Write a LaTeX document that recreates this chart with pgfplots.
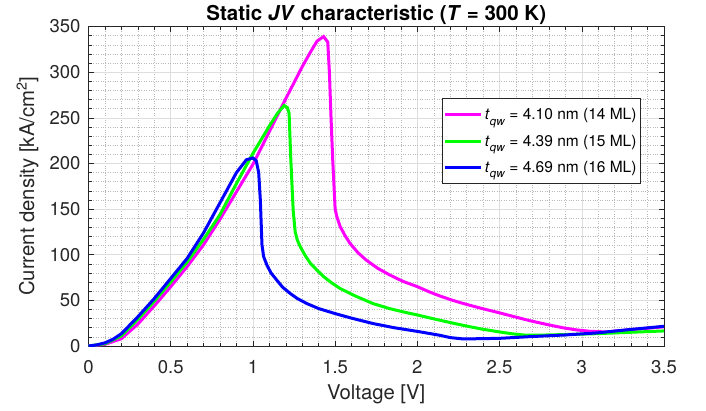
\documentclass[border=0pt]{standalone}
\usepackage{pgfplots}
\pgfplotsset{compat=1.18}
\usepackage{fontspec}
\setmainfont{TeX Gyre Heros}
\definecolor{axgray}{gray}{0.15}
\definecolor{mmag}{rgb}{1,0,1}
\definecolor{mgreen}{rgb}{0,1,0}
\definecolor{mblue}{rgb}{0,0,1}
\newcommand{\tqw}{\textit{t}\raisebox{-5.5pt}{\fontsize{11.5}{12}\selectfont\textit{qw}}}
\begin{document}
\begin{tikzpicture}
\begin{axis}[
  scale only axis, width=575.5pt, height=319.5pt,
  xmin=0, xmax=3.5, ymin=0, ymax=350,
  xtick={0,0.5,1,1.5,2,2.5,3,3.5},
  xticklabels={0,0.5,1,1.5,2,2.5,3,3.5},
  ytick={0,50,100,150,200,250,300,350},
  yticklabels={0,50,100,150,200,250,300,350},
  minor x tick num=4, minor y tick num=4,
  grid=both,
  major grid style={black!13, line width=0.5pt},
  minor grid style={black!28, dotted, line width=0.5pt},
  tick align=inside,
  major tick length=5.5pt, minor tick length=3.5pt,
  every tick/.style={axgray, line width=0.5pt},
  axis line style={axgray, line width=0.6pt},
  /pgf/number format/assume math mode=true,
  tick label style={font=\fontsize{18.5}{20}\selectfont, text=axgray},
  xticklabel style={anchor=north, inner sep=0pt, yshift=-14pt},
  yticklabel style={anchor=east, inner sep=0pt, xshift=-7.8pt},
  every axis title shift=0pt,
  title={Static \textit{JV} characteristic (\textit{T} = 300 K)},
  title style={font=\bfseries\fontsize{20.5}{22}\selectfont, at={(axis description cs:0.5,1)}, anchor=base, yshift=5.5pt, inner sep=0pt},
  xlabel={Voltage [V]},
  xlabel style={font=\fontsize{20.3}{22}\selectfont, text=axgray, at={(axis description cs:0.5,0)}, anchor=base, yshift=-53pt, inner sep=0pt},
  ylabel={Current density [kA/cm\textsuperscript{2}]},
  ylabel style={font=\fontsize{20.3}{22}\selectfont, text=axgray, at={(axis description cs:-0.106,0.5)}, anchor=center, inner sep=0pt},
  legend style={at={(axis description cs:0.6137,0.7753)}, anchor=north west, draw=axgray, line width=0.6pt, fill=white,
    font=\fontsize{15.5}{17}\selectfont, inner xsep=2pt, inner ysep=6pt, row sep=6pt,
    nodes={inner xsep=2pt, inner ysep=3.8pt}},
  legend cell align=left,
  legend image code/.code={\draw[#1] (0pt,0pt) -- (36pt,0pt);},
]
\addplot[mmag, line width=3pt] coordinates {
(0,0) (0.1,1.8) (0.2,8) (0.3,24) (0.4,44) (0.5,65) (0.6,87) (0.7,111) (0.8,139) (0.9,169)
(1.0,199) (1.1,235) (1.2,271) (1.3,306) (1.35,322) (1.39,334) (1.43,339) (1.455,333)
(1.465,300) (1.475,250) (1.485,205) (1.5,150) (1.51,142) (1.53,131) (1.56,121) (1.59,112.5)
(1.64,102) (1.69,94) (1.76,85) (1.83,78) (1.91,71) (2.0,65) (2.07,59.5) (2.14,54.6) (2.21,50.3)
(2.28,46.5) (2.39,41.2) (2.5,36.3) (2.6,31.6) (2.69,27.5) (2.79,23.5) (2.89,19.8) (2.97,17.6)
(3.05,16.1) (3.15,15.4) (3.3,18) (3.5,21)
};
\addlegendentry{\tqw{} = 4.10 nm (14 ML)}
\addplot[mgreen, line width=3pt] coordinates {
(0,0) (0.1,2.5) (0.2,11) (0.3,29) (0.4,49) (0.5,70) (0.6,92) (0.7,117) (0.8,144) (0.9,178)
(1.0,211) (1.1,241) (1.15,255) (1.19,263.5) (1.21,261) (1.22,255) (1.23,206) (1.245,148)
(1.257,125) (1.27,116) (1.29,108) (1.32,98.5) (1.35,90.5) (1.39,83) (1.43,76) (1.48,69)
(1.53,63) (1.62,55) (1.73,46.5) (1.83,41) (1.94,36.3) (2.0,34) (2.1,29.7) (2.2,25.7)
(2.3,21.8) (2.4,18.3) (2.5,15.4) (2.58,13.3) (2.65,12) (2.77,12) (2.89,12.5) (3.09,13.5)
(3.29,15) (3.5,16.5)
};
\addlegendentry{\tqw{} = 4.39 nm (15 ML)}
\addplot[mblue, line width=3pt] coordinates {
(0,0) (0.05,1.2) (0.1,3.5) (0.15,7.5) (0.2,13.5) (0.3,32) (0.4,52) (0.5,74) (0.6,96) (0.7,124)
(0.8,157) (0.9,190) (0.96,204) (1.0,206) (1.02,203) (1.035,190) (1.045,160) (1.055,111)
(1.065,98) (1.085,88.6) (1.11,80) (1.146,72) (1.18,64.5) (1.227,57.5) (1.27,52) (1.328,46.5)
(1.4,41) (1.5,35.5) (1.6,30.5) (1.733,24.5) (1.86,20) (2.0,16) (2.138,11.7) (2.2,9.2)
(2.28,7.7) (2.5,8.4) (2.69,10.3) (2.89,12) (3.09,14.3) (3.29,18) (3.5,21.6)
};
\addlegendentry{\tqw{} = 4.69 nm (16 ML)}
\end{axis}
\pgfresetboundingbox
\path ([xshift=-88.5pt,yshift=-64pt]current axis.south west) rectangle ([xshift=42pt,yshift=26.5pt]current axis.north east);
\end{tikzpicture}
\end{document}
